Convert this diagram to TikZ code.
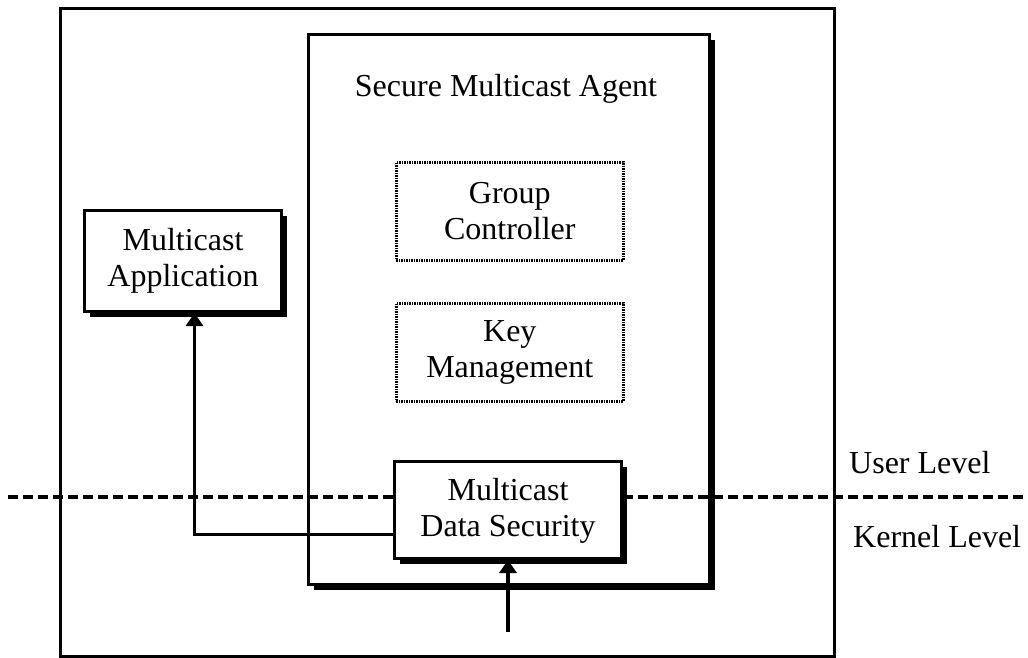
\documentclass[tikz,border=0pt]{standalone}
\usepackage{fontspec}
\setmainfont{Liberation Serif}
\usetikzlibrary{arrows.meta,shadows,calc}

\begin{document}
\begin{tikzpicture}[x=1pt,y=-1pt,
    every node/.style={font=\fontsize{32}{36}\selectfont, align=center, inner sep=0pt},
    hostbox/.style={draw, line width=3.4pt, anchor=north west},
    agentbox/.style={draw, fill=white, line width=3pt, anchor=north west,
      drop shadow={shadow xshift=5pt, shadow yshift=-5pt, fill=black, opacity=1}},
    modbox/.style={draw, fill=white, line width=3pt, anchor=north west,
      drop shadow={shadow xshift=5pt, shadow yshift=-5pt, fill=black, opacity=1}},
    dotbox/.style={draw, line width=2.6pt, dash pattern=on 1.4pt off 1.1pt, anchor=north west},
    levelline/.style={line width=3.6pt, dash pattern=on 9.5pt off 5.5pt},
    conn/.style={line width=3.4pt, -{Triangle[length=13pt,width=17pt]}},
    levellabel/.style={anchor=west}
  ]
  \useasboundingbox (0,0) rectangle (1028,657);

  % host machine
  \node[hostbox, minimum width=774pt, minimum height=648pt] (host) at (59,7) {};

  % secure multicast agent
  \node[agentbox, minimum width=401pt, minimum height=550pt] (sma) at (307,33) {};
  \node (smatitle) at (506,89) {Secure Multicast Agent};

  % user / kernel boundary
  \coordinate (lvlL) at (8,497);
  \coordinate (lvlR) at (1028,497);
  \draw[levelline] (lvlL) -- (lvlR);

  % modules inside the agent
  \node[dotbox, minimum width=227pt, minimum height=98pt] (gc) at (395,161) {};
  \node (gctext) at (gc.center) {Group\\Controller};
  \node[dotbox, minimum width=227pt, minimum height=98pt] (km) at (395,302) {};
  \node (kmtext) at (km.center) {Key\\Management};
  \node[modbox, minimum width=227pt, minimum height=97pt] (mds) at (393,460) {};
  \node (mdstext) at ($(mds.center)+(0,1)$) {Multicast\\Data Security};

  % application
  \node[modbox, minimum width=197pt, minimum height=101pt] (app) at (83,209) {};
  \node (apptext) at (app.center) {Multicast\\Application};

  % level labels
  \node[levellabel] (user) at (849,463) {User Level};
  \node[levellabel] (kernel) at (853,537) {Kernel Level};

  % data paths
  \draw[conn] ($(mds.west)+(0,24.5)$) -| ($(app.south)+(11.5,0)$);
  \coordinate (feed) at (mds.south |- 0,632);
  \draw[conn] (feed) -- (mds.south);
\end{tikzpicture}
\end{document}
